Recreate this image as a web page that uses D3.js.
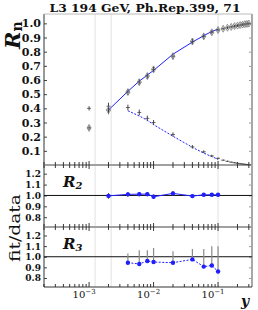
<!DOCTYPE html>
<html>
<head>
<meta charset="utf-8">
<script src="https://cdn.jsdelivr.net/npm/d3@7"></script>
<style>
  body { margin: 0; background: #fff; }
  svg text { font-family: "DejaVu Serif", serif; fill: #111; }
</style>
</head>
<body>
<div id="chart"></div>
<script>
const ycut = [0.001, 0.002, 0.004, 0.006, 0.008, 0.01, 0.02, 0.04, 0.06, 0.08, 0.1,
              0.12, 0.14, 0.16, 0.18, 0.2, 0.22, 0.24, 0.26, 0.28, 0.3];
const rateR2 = [0.262, 0.388, 0.515, 0.585, 0.628, 0.675, 0.768, 0.872, 0.908, 0.937, 0.953,
                0.962, 0.969, 0.975, 0.980, 0.984, 0.988, 0.991, 0.994, 0.996, 0.998];
const errR2 = [0.015, 0.03, 0.02, 0.02, 0.02, 0.02, 0.02, 0.02, 0.018, 0.015, 0.012,
               0.01, 0.01, 0.01, 0.01, 0.01, 0.01, 0.01, 0.01, 0.01, 0.01];
const rateR3 = [0.400, 0.415, 0.406, 0.371, 0.329, 0.300, 0.215, 0.128, 0.093, 0.064, 0.047,
                0.034, 0.026, 0.020, 0.016, 0.012, 0.009, 0.007, 0.005, 0.003, 0.002];
const errR3 = [0.015, 0.025, 0.02, 0.02, 0.02, 0.018, 0.015, 0.012, 0.01, 0.008, 0.006,
               0.005, 0.005, 0.004, 0.004, 0.004, 0.003, 0.003, 0.003, 0.003, 0.003];

// fit curves
const fitYcutR2 = [0.002, 0.004, 0.006, 0.008, 0.01, 0.02, 0.04, 0.06, 0.08, 0.1];
const fitR2 = [0.388, 0.520, 0.592, 0.635, 0.668, 0.782, 0.868, 0.913, 0.943, 0.959];
const fitYcutR3 = [0.004, 0.006, 0.008, 0.01, 0.02, 0.04, 0.06, 0.08, 0.1];
const fitR3 = [0.383, 0.346, 0.316, 0.285, 0.203, 0.125, 0.084, 0.059, 0.040];

// fit/data ratios
const ratioR2 = [0.996, 1.010, 1.012, 1.012, 0.988, 1.019, 0.994, 1.006, 1.006, 1.006];
const ratioR2Err = [0.025, 0.02, 0.02, 0.02, 0.02, 0.02, 0.015, 0.015, 0.015, 0.015];
const ratioR3 = [0.944, 0.932, 0.960, 0.950, 0.944, 0.975, 0.907, 0.917, 0.861];
const ratioR3Lo = [0.944, 0.938, 0.960, 0.950, 0.944, 0.975, 0.907, 0.907, 0.861];
const ratioR3Hi = [1.031, 1.062, 1.062, 1.083, 1.052, 1.074, 1.074, 1.099, 1.099];

// axes
const xDomain = [2e-4, 0.336];
const xMajor = [1e-3, 1e-2, 1e-1];
const xMajorExp = ["\u22123", "\u22122", "\u22121"];
const gridYcut = [0.00124, 0.0022, 0.1];
const rnTicks = [0.1, 0.2, 0.3, 0.4, 0.5, 0.6, 0.7, 0.8, 0.9, 1.0];
const ratioTicks = [0.8, 0.9, 1.0, 1.1, 1.2];

const W = 258, H = 310;
const L = 44, R = 252;
const top0 = 14, b1 = 165, b2 = 227, b3 = 287;
const blue = "#1f1fff";

const svg = d3.select("#chart").append("svg")
  .attr("width", W).attr("height", H);

const x = d3.scaleLog().domain(xDomain).range([L, R]);
const yMain = d3.scaleLinear().domain([0, 1.066]).range([b1, top0]);
const yR2 = d3.scaleLinear().domain([0.71, 1.28]).range([b2, b1]);
const yR3 = d3.scaleLinear().domain([0.715, 1.28]).range([b3, b2]);

// vertical grid lines
svg.append("g").selectAll("line").data(gridYcut).join("line")
  .attr("x1", d => x(d)).attr("x2", d => x(d))
  .attr("y1", top0).attr("y2", b3)
  .attr("stroke", "#e2e2e2").attr("stroke-width", 1);

// y ticks helper
function yTicks(scale, vals, fs, bold, pad) {
  const g = svg.append("g").attr("transform", `translate(${L},0)`)
    .call(d3.axisLeft(scale).tickValues(vals).tickSize(-3).tickPadding(pad)
      .tickFormat(d3.format(".1f")));
  g.select(".domain").remove();
  g.selectAll(".tick line").attr("stroke", "#444");
  g.selectAll(".tick text").attr("font-size", fs).attr("font-weight", bold ? "bold" : "normal")
    .attr("font-family", "DejaVu Serif").attr("fill", "#111");
  const gr = svg.append("g").attr("transform", `translate(${R},0)`)
    .call(d3.axisRight(scale).tickValues(vals).tickSize(-3).tickFormat(""));
  gr.select(".domain").remove();
  gr.selectAll(".tick line").attr("stroke", "#999");
}
yTicks(yMain, rnTicks, 11, true, 3);
yTicks(yR2, ratioTicks, 9, true, 3);
yTicks(yR3, ratioTicks, 9, true, 3);

// frame
svg.append("line").attr("x1", L).attr("x2", L).attr("y1", top0).attr("y2", b3)
  .attr("stroke", "#333").attr("stroke-width", 1);
svg.append("line").attr("x1", R).attr("x2", R).attr("y1", top0).attr("y2", b3)
  .attr("stroke", "#a8a8a8").attr("stroke-width", 2);
svg.append("line").attr("x1", L).attr("x2", R).attr("y1", top0).attr("y2", top0)
  .attr("stroke", "#bbb").attr("stroke-width", 1);
[b1, b2].forEach(yy => {
  svg.append("line").attr("x1", L).attr("x2", R).attr("y1", yy).attr("y2", yy)
    .attr("stroke", "#a0a0a0").attr("stroke-width", 2);
});
svg.append("line").attr("x1", L).attr("x2", R).attr("y1", b3).attr("y2", b3)
  .attr("stroke", "#333").attr("stroke-width", 1);

// x ticks (minor from the log scale)
const allTicks = x.ticks().filter(t => t >= xDomain[0] && t <= xDomain[1]);
const isMajor = t => xMajor.some(m => Math.abs(t / m - 1) < 1e-6);
[b1, b2].forEach(yy => {
  svg.append("g").selectAll("line").data(allTicks).join("line")
    .attr("x1", d => x(d)).attr("x2", d => x(d))
    .attr("y1", d => yy - (isMajor(d) ? 4 : 3)).attr("y2", d => yy + (isMajor(d) ? 4 : 3))
    .attr("stroke", "#222").attr("stroke-width", 0.9);
});
svg.append("g").selectAll("line").data(allTicks).join("line")
  .attr("x1", d => x(d)).attr("x2", d => x(d))
  .attr("y1", b3).attr("y2", d => b3 - (isMajor(d) ? 5 : 3))
  .attr("stroke", "#222").attr("stroke-width", 0.9);

// x tick labels
const xl = svg.append("g").selectAll("text").data(xMajor).join("text")
  .attr("x", d => x(d) - 5).attr("y", b3 + 11)
  .attr("text-anchor", "middle").attr("font-size", 10);
xl.append("tspan").text("10");
xl.append("tspan").attr("dy", -4).attr("font-size", 7).text((d, i) => xMajorExp[i]);

svg.append("text").attr("x", 245).attr("y", 306)
  .attr("font-size", 14).attr("font-style", "italic").attr("font-weight", "bold")
  .attr("text-anchor", "middle").text("y");

// title
svg.append("text").attr("x", 145).attr("y", 11.5).attr("text-anchor", "middle")
  .attr("font-size", 11).attr("font-weight", "bold")
  .attr("textLength", 191).attr("lengthAdjust", "spacingAndGlyphs")
  .text("L3 194 GeV, Ph.Rep.399, 71");

// y axis labels
const rn = svg.append("text").attr("transform", "translate(20,49) rotate(-90)")
  .attr("font-size", 21).attr("font-style", "italic").attr("font-weight", "bold");
rn.append("tspan").text("R");
rn.append("tspan").attr("font-size", 14).attr("font-style", "normal").attr("dy", 1.5).text("n");

svg.append("text").attr("transform", "translate(20,228) rotate(-90)")
  .attr("text-anchor", "middle").attr("font-size", 14)
  .attr("textLength", 68).attr("lengthAdjust", "spacingAndGlyphs")
  .text("fit/data");

// main panel: fit curves
const lineMain = d3.line().x(d => x(d[0])).y(d => yMain(d[1]));
svg.append("path").datum(d3.zip(fitYcutR2, fitR2))
  .attr("d", lineMain).attr("fill", "none").attr("stroke", blue).attr("stroke-width", 1);
svg.append("path").datum(d3.zip(fitYcutR3, fitR3))
  .attr("d", lineMain).attr("fill", "none").attr("stroke", blue).attr("stroke-width", 1)
  .attr("stroke-dasharray", "2,1.5");

// main panel: data crosses
function crosses(vals, errs, color) {
  const g = svg.append("g");
  const pts = d3.zip(ycut, vals, errs);
  g.selectAll("line.v").data(pts).join("line").attr("class", "v")
    .attr("x1", d => x(d[0])).attr("x2", d => x(d[0]))
    .attr("y1", d => yMain(d[1] - d[2])).attr("y2", d => yMain(d[1] + d[2]))
    .attr("stroke", color).attr("stroke-width", 1);
  g.selectAll("line.h").data(pts).join("line").attr("class", "h")
    .attr("x1", d => x(d[0]) - 2).attr("x2", d => x(d[0]) + 2)
    .attr("y1", d => yMain(d[1])).attr("y2", d => yMain(d[1]))
    .attr("stroke", color).attr("stroke-width", 0.8);
}
crosses(rateR3, errR3, "#444");
crosses(rateR2, errR2, "#444");
svg.append("g").selectAll("path").data(d3.zip(ycut, rateR2)).join("path")
  .attr("transform", d => `translate(${x(d[0])},${yMain(d[1])})`)
  .attr("d", d3.symbol(d3.symbolDiamond, 14))
  .attr("fill", "none").attr("stroke", "#777").attr("stroke-width", 0.8);

// ratio panels
[yR2, yR3].forEach(s => {
  svg.append("line").attr("x1", L).attr("x2", R).attr("y1", s(1)).attr("y2", s(1))
    .attr("stroke", "#111").attr("stroke-width", 1);
});

// R3 ratio error bars (gray)
svg.append("g").selectAll("line").data(d3.zip(fitYcutR3, ratioR3Lo, ratioR3Hi)).join("line")
  .attr("x1", d => x(d[0])).attr("x2", d => x(d[0]))
  .attr("y1", d => yR3(d[1])).attr("y2", d => yR3(d[2]))
  .attr("stroke", "#8a8a8a").attr("stroke-width", 1.2);

// R2 ratio
svg.append("g").selectAll("line").data(d3.zip(fitYcutR2, ratioR2, ratioR2Err)).join("line")
  .attr("x1", d => x(d[0])).attr("x2", d => x(d[0]))
  .attr("y1", d => yR2(d[1] - d[2])).attr("y2", d => yR2(d[1] + d[2]))
  .attr("stroke", "#222").attr("stroke-width", 1);
svg.append("path").datum(d3.zip(fitYcutR2, ratioR2))
  .attr("d", d3.line().x(d => x(d[0])).y(d => yR2(d[1])))
  .attr("fill", "none").attr("stroke", blue).attr("stroke-width", 1);
svg.append("g").selectAll("circle").data(d3.zip(fitYcutR2, ratioR2)).join("circle")
  .attr("cx", d => x(d[0])).attr("cy", d => yR2(d[1])).attr("r", 2.2).attr("fill", blue);

// R3 ratio
svg.append("path").datum(d3.zip(fitYcutR3, ratioR3))
  .attr("d", d3.line().x(d => x(d[0])).y(d => yR3(d[1])))
  .attr("fill", "none").attr("stroke", blue).attr("stroke-width", 1)
  .attr("stroke-dasharray", "2,1.5");
svg.append("g").selectAll("circle").data(d3.zip(fitYcutR3, ratioR3)).join("circle")
  .attr("cx", d => x(d[0])).attr("cy", d => yR3(d[1])).attr("r", 2.2).attr("fill", blue);

// panel labels
[["2", b1 + 22], ["3", b2 + 22]].forEach(([n, yy]) => {
  const t = svg.append("text").attr("x", 63).attr("y", yy)
    .attr("font-size", 15).attr("font-style", "italic").attr("font-weight", "bold");
  t.append("tspan").text("R");
  t.append("tspan").attr("font-size", 10).attr("dy", 2).text(n);
});
</script>
</body>
</html>
